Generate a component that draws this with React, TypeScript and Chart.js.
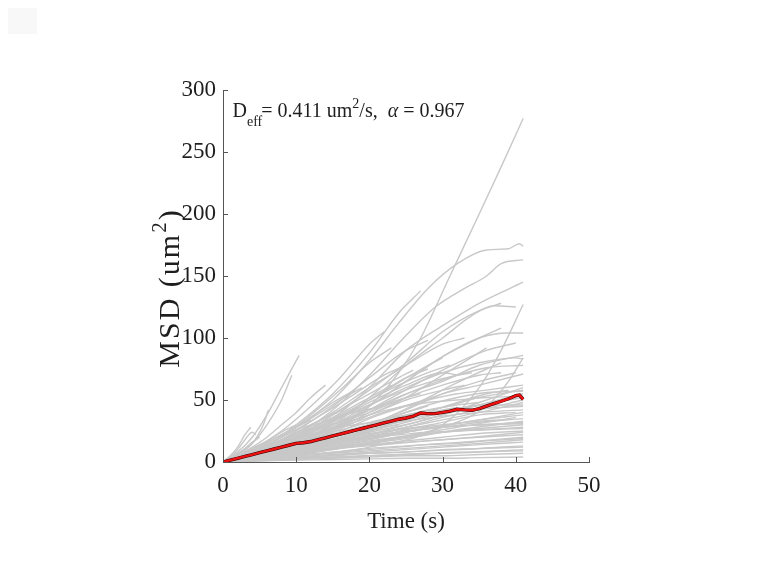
import React, { useEffect, useRef } from 'react';
import { Chart, registerables } from 'chart.js';
Chart.register(...registerables);

// ---- axes ----
const X_MIN = 0;
const X_MAX = 50;
const X_STEP = 10;
const Y_MIN = 0;
const Y_MAX = 300;
const Y_STEP = 50;
const X_TITLE = 'Time (s)';
const Y_TITLE_MAIN = 'MSD (um';
const Y_TITLE_SUP = '2';
const Y_TITLE_END = ')';
const D_EFF = '0.411';
const ALPHA = '0.967';

// ---- mean MSD (red) ----
const MEAN_T = [0, 1, 2, 3, 4, 5, 6, 7, 8, 9, 10, 11, 12, 13, 14, 15, 16, 17, 18, 19, 20, 21, 22, 23, 24, 25, 26, 27, 28, 29, 30, 31, 32, 33, 34, 35, 36, 37, 38, 39, 40, 40.5, 41];
const MEAN_MSD = [0, 1.5, 3, 4.5, 6, 7.5, 9, 10.5, 12, 13.5, 15, 15.5, 16.5, 18, 19.5, 21, 22.5, 24, 25.5, 27, 28.5, 30, 31.5, 33, 34.5, 35.5, 37, 39.5, 39, 39, 40, 41, 42.5, 42, 41.7, 43, 45, 47, 49, 51, 53.5, 54, 50.5];

// ---- individual trajectories (gray): [time, msd] ----
const TRACK_01 = [[0, 0], [5, 4], [10, 12], [15, 25], [20, 45], [24, 72], [27, 100], [31, 150], [35, 200], [38, 238], [41, 277]];
const TRACK_02 = [[0, 0], [5, 10], [10, 28], [15, 50], [20, 82], [24, 112], [28, 140], [32, 160], [36, 171], [39, 172], [40.5, 176], [41, 174]];
const TRACK_03 = [[0, 0], [5, 8], [10, 22], [15, 42], [20, 70], [25, 102], [29, 125], [33, 140], [36, 150], [38, 160], [41, 163]];
const TRACK_04 = [[0, 0], [5, 7], [10, 18], [15, 35], [20, 60], [25, 90], [30, 110], [35, 128], [41, 145]];
const TRACK_05 = [[0, 0], [5, 6], [10, 16], [15, 30], [20, 52], [25, 78], [30, 100], [34, 118], [37, 126], [40, 125]];
const TRACK_06 = [[0, 0], [10, 5], [20, 12], [30, 30], [35, 60], [38, 90], [41, 127]];
const TRACK_07 = [[0, 0], [10, 6], [20, 15], [30, 28], [36, 45], [39, 65], [41, 84]];
const TRACK_08 = [[0, 0], [5, 5], [10, 14], [15, 26], [20, 45], [25, 65], [30, 85], [35, 100], [39, 104], [41, 104]];
const TRACK_09 = [[0, 0], [5, 10], [10, 30], [15, 55], [20, 88], [24, 120], [27, 138]];
const TRACK_10 = [[0, 0], [5, 8], [10, 22], [15, 40], [20, 60], [25, 78], [30, 95], [33, 100]];
const TRACK_11 = [[0, 0], [5, 9], [10, 25], [15, 45], [20, 68], [25, 90], [28, 98]];
const TRACK_12 = [[0, 0], [5, 6], [10, 15], [15, 28], [20, 42], [25, 55], [30, 65], [35, 78], [41, 86]];
const TRACK_13 = [[0, 0], [5, 5], [10, 12], [15, 22], [20, 35], [25, 45], [30, 55], [35, 62], [41, 71]];
const TRACK_14 = [[0, 0], [5, 7], [10, 18], [15, 32], [20, 48], [25, 62], [30, 72], [32, 70]];
const TRACK_15 = [[0, 0], [2, 8], [4, 20], [6, 38], [8, 60], [10.4, 86]];
const TRACK_16 = [[0, 0], [2, 6], [4, 15], [6, 30], [8, 50], [9.4, 70]];
const TRACK_17 = [[0, 0], [2, 6], [4, 15], [5.5, 30], [6.2, 42]];
const TRACK_18 = [[0, 0], [1, 5], [2, 12], [3, 22], [3.8, 28]];
const TRACK_19 = [[0, 0], [1, 4], [2, 10], [3, 18], [4, 24], [4.5, 22]];
const TRACK_20 = [[0, 0], [2, 5], [4, 12], [6, 20], [8, 30], [10, 40], [12, 52], [14, 62]];
const TRACK_21 = [[0, 0], [3, 6], [6, 14], [10, 26], [14, 40], [18, 55], [22, 70], [25, 78]];
const TRACK_22 = [[0, 0], [5, 6], [10, 15], [15, 28], [20, 45], [25, 65], [30, 85], [35, 100], [38, 108]];
const TRACK_23 = [[0, 0], [5, 8], [10, 20], [15, 38], [20, 58], [25, 80], [30, 105], [35, 122], [38, 128]];
const TRACK_24 = [[0, 0], [5, 5], [10, 13], [15, 24], [20, 38], [25, 52], [30, 70], [36, 92]];
const TRACK_25 = [[0, 0], [5, 7], [10, 17], [15, 30], [20, 46], [25, 60], [30, 72], [35, 80], [40, 84], [41, 83]];
const TRACK_26 = [[0, 0], [5, 5], [10, 11], [15, 20], [20, 30], [25, 42], [30, 55], [35, 65], [40, 72]];
const TRACK_27 = [[0, 0], [5, 4], [10, 9], [15, 15], [20, 22], [25, 30], [30, 38], [35, 48], [41, 60]];
const TRACK_28 = [[0, 0], [5, 5], [10, 11], [15, 17], [20, 24], [25, 30], [30, 38], [35, 46], [41, 55]];
const TRACK_29 = [[0, 0], [5, 6], [10, 12], [15, 18], [20, 25], [25, 32], [30, 40], [35, 46], [41, 52]];
const TRACK_30 = [[0, 0], [5, 5], [10, 10], [15, 16], [20, 22], [25, 28], [30, 34], [35, 40], [41, 48]];
const TRACK_31 = [[0, 0], [5, 6], [10, 14], [15, 22], [20, 30], [25, 36], [30, 40], [35, 43], [41, 45]];
const TRACK_32 = [[0, 0], [5, 7], [10, 15], [15, 22], [20, 28], [25, 33], [30, 37], [35, 40], [41, 42]];
const TRACK_33 = [[0, 0], [5, 4], [10, 8], [15, 13], [20, 18], [25, 24], [30, 29], [35, 34], [41, 38]];
const TRACK_34 = [[0, 0], [5, 5], [10, 10], [15, 15], [20, 20], [25, 25], [30, 28], [35, 32], [41, 35]];
const TRACK_35 = [[0, 0], [5, 6], [10, 12], [15, 17], [20, 21], [25, 25], [30, 28], [35, 30], [41, 32]];
const TRACK_36 = [[0, 0], [5, 4], [10, 8], [15, 12], [20, 16], [25, 20], [30, 24], [35, 27], [41, 30]];
const TRACK_37 = [[0, 0], [5, 5], [10, 9], [15, 13], [20, 17], [25, 21], [30, 24], [35, 26], [41, 28]];
const TRACK_38 = [[0, 0], [5, 3], [10, 6], [15, 10], [20, 14], [25, 17], [30, 20], [35, 23], [41, 25]];
const TRACK_39 = [[0, 0], [5, 4], [10, 8], [15, 11], [20, 14], [25, 16], [30, 18], [35, 20], [41, 22]];
const TRACK_40 = [[0, 0], [5, 3], [10, 6], [15, 8], [20, 11], [25, 13], [30, 15], [35, 17], [41, 20]];
const TRACK_41 = [[0, 0], [5, 3], [10, 5], [15, 7], [20, 9], [25, 11], [30, 13], [35, 15], [41, 18]];
const TRACK_42 = [[0, 0], [5, 2], [10, 4], [15, 6], [20, 8], [25, 10], [30, 12], [35, 14], [41, 16]];
const TRACK_43 = [[0, 0], [5, 2], [10, 4], [15, 5], [20, 7], [25, 8], [30, 10], [35, 11], [41, 13]];
const TRACK_44 = [[0, 0], [5, 2], [10, 3], [15, 4], [20, 5], [25, 6], [30, 7], [35, 8], [41, 10]];
const TRACK_45 = [[0, 0], [5, 1], [10, 2], [15, 3], [20, 4], [25, 5], [30, 5], [35, 6], [41, 7]];
const TRACK_46 = [[0, 0], [5, 1], [10, 1.5], [15, 2], [20, 2.5], [25, 3], [30, 3], [35, 3.5], [41, 4]];
const TRACK_47 = [[0, 0], [5, 6], [10, 10], [15, 14], [20, 20], [25, 28], [30, 36], [35, 42], [41, 50]];
const TRACK_48 = [[0, 0], [5, 8], [10, 16], [15, 24], [20, 32], [25, 38], [30, 44], [35, 52], [41, 58]];
const TRACK_49 = [[0, 0], [5, 5], [10, 12], [15, 20], [20, 28], [25, 35], [30, 42], [32, 44]];
const TRACK_50 = [[0, 0], [5, 7], [10, 14], [15, 22], [20, 30], [25, 40], [28, 45]];
const TRACK_51 = [[0, 0], [5, 4], [10, 10], [15, 18], [20, 26], [24, 30]];
const TRACK_52 = [[0, 0], [3, 5], [6, 10], [10, 18], [14, 26], [18, 32]];
const TRACK_53 = [[0, 0], [3, 4], [6, 9], [10, 14], [14, 20], [18, 25], [22, 28]];
const TRACK_54 = [[0, 0], [5, 10], [10, 20], [15, 30], [20, 40], [25, 52], [30, 62], [35, 70], [38, 72]];
const TRACK_55 = [[0, 0], [5, 8], [10, 18], [15, 28], [20, 38], [25, 50], [30, 58], [33, 62]];
const TRACK_56 = [[0, 0], [5, 9], [10, 20], [15, 34], [20, 50], [25, 68], [28, 75]];
const TRACK_57 = [[0, 0], [3, 6], [6, 14], [9, 24], [12, 36], [15, 48], [18, 58]];
const TRACK_58 = [[0, 0], [3, 5], [6, 12], [9, 20], [12, 30], [15, 38], [17, 44]];
const TRACK_59 = [[0, 0], [5, 10], [10, 22], [15, 36], [20, 52], [23, 62]];
const TRACK_60 = [[0, 0], [2, 4], [4, 10], [6, 16], [8, 22], [10, 28], [12, 34]];
const TRACK_61 = [[0, 0], [5, 3], [10, 7], [15, 12], [20, 18], [25, 26], [30, 32], [35, 38], [40, 40]];
const TRACK_62 = [[0, 0], [5, 5], [10, 10], [15, 16], [20, 22], [25, 27], [30, 30], [35, 33], [38, 34]];
const TRACK_63 = [[0, 0], [4, 5], [8, 12], [12, 20], [16, 28], [20, 36], [24, 44], [28, 50], [32, 55], [36, 58], [41, 62]];
const TRACK_64 = [[0, 0], [4, 4], [8, 9], [12, 15], [16, 22], [20, 30], [24, 38], [28, 46], [32, 52], [36, 56], [41, 57]];
const TRACK_65 = [[0, 0], [4, 6], [8, 14], [12, 22], [16, 30], [20, 38], [24, 44], [28, 48], [32, 50], [36, 52], [41, 53]];
const TRACK_66 = [[0, 0], [4, 3], [8, 7], [12, 11], [16, 15], [20, 19], [24, 23], [28, 27], [32, 31], [36, 35], [41, 40]];
const TRACK_67 = [[0, 0], [4, 3], [8, 6], [12, 9], [16, 12], [20, 15], [24, 18], [28, 22], [32, 26], [36, 29], [41, 33]];
const TRACK_68 = [[0, 0], [4, 2], [8, 5], [12, 8], [16, 11], [20, 13], [24, 15], [28, 17], [32, 19], [36, 21], [41, 24]];
const TRACK_69 = [[0, 0], [4, 2], [8, 4], [12, 6], [16, 8], [20, 10], [24, 12], [28, 14], [32, 15], [36, 17], [41, 19]];
const TRACK_70 = [[0, 0], [4, 1], [8, 3], [12, 4], [16, 6], [20, 7], [24, 8], [28, 9], [32, 10], [36, 11], [41, 12]];
const TRACK_71 = [[0, 0], [4, 1], [8, 2], [12, 3], [16, 4], [20, 5], [24, 6], [28, 7], [32, 8], [36, 8.5], [41, 9]];
const TRACK_72 = [[0, 0], [4, 4], [8, 9], [12, 13], [16, 17], [20, 20], [24, 22], [28, 24], [32, 25], [36, 26], [41, 27]];
const TRACK_73 = [[0, 0], [4, 5], [8, 10], [12, 15], [16, 19], [20, 23], [24, 26], [28, 28], [32, 29], [36, 30], [41, 31]];
const TRACK_74 = [[0, 0], [4, 6], [8, 12], [12, 18], [16, 24], [20, 30], [24, 36], [28, 42], [32, 46], [35, 48]];
const TRACK_75 = [[0, 0], [4, 7], [8, 15], [12, 24], [16, 33], [20, 42], [24, 50], [27, 55]];
const TRACK_76 = [[0, 0], [4, 8], [8, 17], [12, 27], [16, 38], [20, 50], [24, 62], [28, 72], [31, 78]];
const TRACK_77 = [[0, 0], [4, 5], [8, 12], [12, 20], [16, 30], [20, 42], [24, 55], [28, 68], [32, 80], [36, 90], [40, 96]];
const TRACK_78 = [[0, 0], [4, 6], [8, 14], [12, 24], [16, 36], [20, 50], [24, 64], [28, 78], [30, 84]];
const TRACK_79 = [[0, 0], [4, 4], [8, 10], [12, 18], [16, 28], [20, 40], [24, 52], [28, 62], [32, 70], [36, 76], [41, 78]];
const TRACK_80 = [[0, 0], [3, 6], [6, 13], [9, 21], [12, 29], [15, 35], [18, 40], [21, 44]];
const TRACK_81 = [[0, 0], [3, 5], [6, 11], [9, 17], [12, 22], [15, 27], [18, 30], [21, 32], [24, 33]];
const TRACK_82 = [[0, 0], [2, 5], [4, 11], [6, 17], [8, 24], [10, 30]];
const TRACK_83 = [[0, 0], [2, 4], [4, 9], [6, 14], [8, 20], [10, 26], [12, 30]];
const TRACK_84 = [[0, 0], [1, 3], [2, 7], [3, 11], [4, 16], [5, 20]];
const TRACK_85 = [[0, 0], [4, 8], [8, 18], [12, 30], [16, 42], [20, 55], [24, 68], [26, 74]];
const TRACK_86 = [[0, 0], [4, 7], [8, 16], [12, 26], [16, 36], [20, 46], [24, 56], [28, 64], [32, 70], [34, 72]];
const TRACK_87 = [[0, 0], [4, 3], [8, 8], [12, 14], [16, 20], [20, 26], [24, 32], [28, 38], [32, 43], [36, 46], [41, 46]];
const TRACK_88 = [[0, 0], [4, 2], [8, 5], [12, 8], [16, 12], [20, 16], [24, 20], [28, 24], [32, 28], [36, 32], [40, 36]];
const TRACK_89 = [[0, 0], [4, 3], [8, 7], [12, 12], [16, 18], [20, 25], [24, 33], [28, 40], [32, 48], [36, 55], [39, 58]];
const TRACK_90 = [[0, 0], [4, 4], [8, 9], [12, 15], [16, 22], [20, 30], [24, 40], [28, 52], [32, 64], [36, 75], [38, 80]];
const TRACK_91 = [[0, 0], [4, 10], [8, 25], [12, 45], [16, 68], [20, 95], [22, 105]];
const TRACK_92 = [[0, 0], [4, 8], [8, 20], [12, 38], [16, 58], [20, 80], [23, 92]];
const TRACK_93 = [[0, 0], [4, 9], [8, 22], [12, 35], [16, 50], [19, 60]];

const TRACKS = [
  TRACK_01, TRACK_02, TRACK_03, TRACK_04, TRACK_05, TRACK_06, TRACK_07, TRACK_08, TRACK_09, TRACK_10,
  TRACK_11, TRACK_12, TRACK_13, TRACK_14, TRACK_15, TRACK_16, TRACK_17, TRACK_18, TRACK_19, TRACK_20,
  TRACK_21, TRACK_22, TRACK_23, TRACK_24, TRACK_25, TRACK_26, TRACK_27, TRACK_28, TRACK_29, TRACK_30,
  TRACK_31, TRACK_32, TRACK_33, TRACK_34, TRACK_35, TRACK_36, TRACK_37, TRACK_38, TRACK_39, TRACK_40,
  TRACK_41, TRACK_42, TRACK_43, TRACK_44, TRACK_45, TRACK_46, TRACK_47, TRACK_48, TRACK_49, TRACK_50,
  TRACK_51, TRACK_52, TRACK_53, TRACK_54, TRACK_55, TRACK_56, TRACK_57, TRACK_58, TRACK_59, TRACK_60,
  TRACK_61, TRACK_62, TRACK_63, TRACK_64, TRACK_65, TRACK_66, TRACK_67, TRACK_68, TRACK_69, TRACK_70,
  TRACK_71, TRACK_72, TRACK_73, TRACK_74, TRACK_75, TRACK_76, TRACK_77, TRACK_78, TRACK_79, TRACK_80,
  TRACK_81, TRACK_82, TRACK_83, TRACK_84, TRACK_85, TRACK_86, TRACK_87, TRACK_88, TRACK_89, TRACK_90,
  TRACK_91, TRACK_92, TRACK_93,
];

const FONT = '"Liberation Serif", "Times New Roman", serif';
const TEXT_COLOR = '#1e1e1e';
const AXIS_COLOR = '#555555';
const GRAY = 'rgb(200,200,200)';

const overlayPlugin = {
  id: 'overlay',
  afterDraw(chart: any) {
    const { ctx, chartArea, scales } = chart;
    const xs = scales.x;
    const ys = scales.y;
    ctx.save();
    // inward ticks
    ctx.strokeStyle = AXIS_COLOR;
    ctx.lineWidth = 1;
    ctx.beginPath();
    for (let v = X_MIN; v <= X_MAX; v += X_STEP) {
      const px = Math.round(xs.getPixelForValue(v)) + 0.5;
      ctx.moveTo(px, chartArea.bottom);
      ctx.lineTo(px, chartArea.bottom - 5);
    }
    for (let v = Y_MIN; v <= Y_MAX; v += Y_STEP) {
      const py = Math.round(ys.getPixelForValue(v)) + 0.5;
      ctx.moveTo(chartArea.left, py);
      ctx.lineTo(chartArea.left + 5, py);
    }
    ctx.stroke();

    ctx.fillStyle = TEXT_COLOR;
    ctx.textBaseline = 'alphabetic';
    // annotation
    let ax = chartArea.left + 9.5;
    const ay = chartArea.top + 27;
    ctx.font = `20px ${FONT}`;
    ctx.textAlign = 'left';
    ctx.fillText('D', ax, ay);
    ax += ctx.measureText('D').width;
    ctx.font = `14px ${FONT}`;
    ctx.fillText('eff', ax, ay + 9);
    ax += ctx.measureText('eff').width - 1;
    ctx.font = `20px ${FONT}`;
    const s1 = `= ${D_EFF} um`;
    ctx.fillText(s1, ax, ay);
    ax += ctx.measureText(s1).width;
    ctx.font = `14px ${FONT}`;
    ctx.fillText('2', ax, ay - 9);
    ax += ctx.measureText('2').width;
    ctx.font = `20px ${FONT}`;
    const s2 = '/s,  ';
    ctx.fillText(s2, ax, ay);
    ax += ctx.measureText(s2).width;
    ctx.font = `italic 20px ${FONT}`;
    ctx.fillText('\u03B1', ax, ay);
    ax += ctx.measureText('\u03B1').width;
    ctx.font = `20px ${FONT}`;
    ctx.fillText(` = ${ALPHA}`, ax, ay);

    // x title
    ctx.font = `23px ${FONT}`;
    ctx.textAlign = 'center';
    ctx.fillText(X_TITLE, (chartArea.left + chartArea.right) / 2, chartArea.bottom + 66);

    // y title (rotated)
    ctx.save();
    ctx.translate(chartArea.left - 44.5, (chartArea.top + chartArea.bottom) / 2 + 12);
    ctx.rotate(-Math.PI / 2);
    (ctx as any).letterSpacing = '2px';
    ctx.font = `30px ${FONT}`;
    const w1 = ctx.measureText(Y_TITLE_MAIN).width;
    ctx.font = `21px ${FONT}`;
    const w2 = ctx.measureText(Y_TITLE_SUP).width;
    ctx.font = `30px ${FONT}`;
    const w3 = ctx.measureText(Y_TITLE_END).width;
    let tx = -(w1 + w2 + w3) / 2;
    ctx.textAlign = 'left';
    ctx.fillText(Y_TITLE_MAIN, tx, 0);
    tx += w1;
    ctx.font = `21px ${FONT}`;
    ctx.fillText(Y_TITLE_SUP, tx, -13);
    tx += w2;
    ctx.font = `30px ${FONT}`;
    ctx.fillText(Y_TITLE_END, tx, 0);
    ctx.restore();

    ctx.restore();
  },
};

export default function App() {
  const ref = useRef<HTMLCanvasElement | null>(null);
  useEffect(() => {
    if (!ref.current) return;
    const grayDatasets = TRACKS.map((tr) => ({
      data: tr.map(([t, v]) => ({ x: t, y: v })),
      borderColor: GRAY,
      borderWidth: 1.4,
      pointRadius: 0,
      cubicInterpolationMode: 'monotone' as const,
      order: 3,
    }));
    const meanData = MEAN_T.map((t, i) => ({ x: t, y: MEAN_MSD[i] }));
    const chart = new Chart(ref.current, {
      type: 'line',
      data: {
        datasets: [
          { data: meanData, borderColor: '#ee1111', borderWidth: 2.4, pointRadius: 0, order: 0 },
          { data: meanData, borderColor: '#300000', borderWidth: 3.4, pointRadius: 0, order: 1 },
          ...grayDatasets,
        ],
      },
      options: {
        responsive: false,
        animation: false,
        layout: { padding: { left: 163, right: 176, top: 90, bottom: 80 } },
        plugins: { legend: { display: false }, tooltip: { enabled: false } },
        scales: {
          x: {
            type: 'linear',
            min: X_MIN,
            max: X_MAX,
            grid: { display: false, drawTicks: false },
            border: { display: true, color: AXIS_COLOR, width: 1 },
            ticks: { stepSize: X_STEP, color: TEXT_COLOR, font: { family: FONT, size: 23 }, padding: 10, maxRotation: 0 },
            afterFit: (s: any) => { s.height = 40; },
          },
          y: {
            type: 'linear',
            min: Y_MIN,
            max: Y_MAX,
            grid: { display: false, drawTicks: false },
            border: { display: true, color: AXIS_COLOR, width: 1 },
            ticks: { stepSize: Y_STEP, color: TEXT_COLOR, font: { family: FONT, size: 23 }, padding: 7 },
            afterFit: (s: any) => { s.width = 60; },
          },
        },
      },
      plugins: [overlayPlugin],
    });
    return () => chart.destroy();
  }, []);
  return (
    <div style={{ position: 'absolute', left: 0, top: 0, width: 765, height: 582, background: '#fff' }}>
      <div style={{ position: 'absolute', left: 8, top: 8, width: 29, height: 26, background: '#f8f8f8' }} />
      <canvas ref={ref} width={765} height={582} style={{ position: 'absolute', left: 0, top: 0 }} />
    </div>
  );
}
